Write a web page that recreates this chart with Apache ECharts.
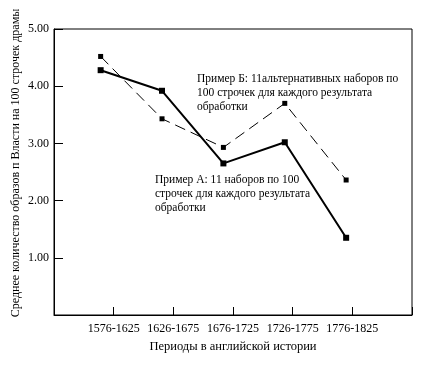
<!DOCTYPE html>
<html><head><meta charset="utf-8">
<script src="https://cdn.jsdelivr.net/npm/echarts@6/dist/echarts.min.js"></script>
<style>html,body{margin:0;padding:0;background:#fff}#c{width:426px;height:367px}</style>
</head><body><div id="c"></div>
<script>
const categories = ['1576-1625', '1626-1675', '1676-1725', '1726-1775', '1776-1825'];
const seriesA = [4.28, 3.92, 2.65, 3.02, 1.35];
const seriesB = [4.52, 3.43, 2.93, 3.70, 2.36];
const yTickLabels = ['', '1.00', '2.00', '3.00', '4.00', '5.00'];
const xName = 'Периоды в английской истории';
const yName = 'Среднее количество образов п Власти на 100 строчек драмы';
const noteA = 'Пример А: 11 наборов по 100\nстрочек для каждого результата\nобработки';
const noteB = 'Пример Б: 11альтернативных наборов по\n100 строчек для каждого результата\nобработки';

const FONT = 'Liberation Serif';
const chart = echarts.init(document.getElementById('c'), null, {renderer: 'canvas'});
chart.setOption({
  animation: false,
  backgroundColor: '#fff',
  grid: {left: 54, top: 29, right: 14, bottom: 52, show: true, borderColor: '#000', borderWidth: 1, containLabel: false},
  xAxis: [{
    type: 'value', min: 0, max: categories.length + 1, interval: 1,
    name: xName, nameLocation: 'middle', nameGap: 25,
    nameTextStyle: {fontFamily: FONT, fontSize: 12.5, color: '#000'},
    axisLine: {show: true, lineStyle: {color: '#000', width: 1}},
    axisTick: {show: true, inside: true, length: 8, lineStyle: {color: '#000'}},
    axisLabel: {
      fontFamily: FONT, fontSize: 12, color: '#000', margin: 8,
      formatter: v => categories[v - 1] || ''
    },
    splitLine: {show: false}
  }, {
    type: 'value', min: -0.760, max: 5.073, show: false
  }],
  yAxis: {
    type: 'value', min: 0, max: 5, interval: 1,
    axisLine: {show: true, lineStyle: {color: '#000', width: 1}},
    axisTick: {show: true, inside: true, length: 9, lineStyle: {color: '#000'}},
    axisLabel: {fontFamily: FONT, fontSize: 12, color: '#000', margin: 5,
      formatter: v => yTickLabels[v] || ''},
    splitLine: {show: false}
  },
  graphic: [
    {type: 'text', x: 16, y: 163, rotation: Math.PI / 2,
     style: {text: yName, fontFamily: FONT, fontSize: 12, fill: '#000', textAlign: 'center', textVerticalAlign: 'middle'}},
    {type: 'text', left: 197, top: 72,
     style: {text: noteB, fontFamily: FONT, fontSize: 11.5, fill: '#000', lineHeight: 14}},
    {type: 'text', left: 155, top: 173,
     style: {text: noteA, fontFamily: FONT, fontSize: 11.5, fill: '#000', lineHeight: 14}}
  ],
  series: [{
    name: 'B', type: 'line', xAxisIndex: 1,
    data: seriesB.map((v, i) => [i, v]),
    symbol: 'rect', symbolSize: 5,
    itemStyle: {color: '#000'},
    lineStyle: {color: '#000', width: 1, type: [11, 6]}
  }, {
    name: 'A', type: 'line', xAxisIndex: 1,
    data: seriesA.map((v, i) => [i, v]),
    symbol: 'rect', symbolSize: 6,
    itemStyle: {color: '#000'},
    lineStyle: {color: '#000', width: 2}
  }]
});
</script></body></html>
